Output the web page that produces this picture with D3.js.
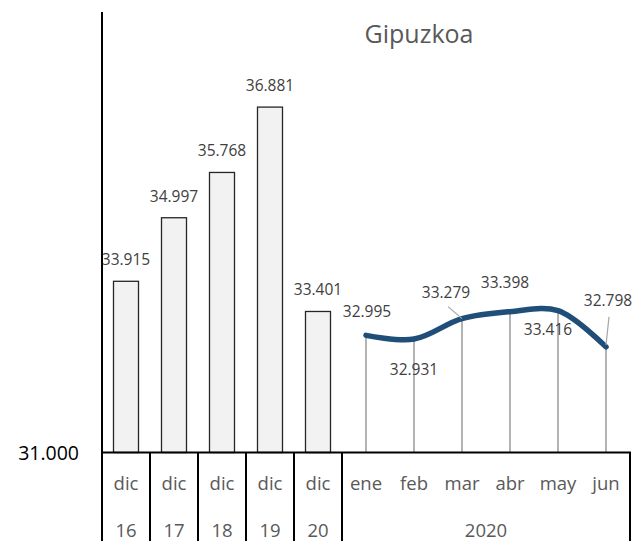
<!DOCTYPE html>
<html>
<head>
<meta charset="utf-8">
<script src="https://cdn.jsdelivr.net/npm/d3@7"></script>
<style>
  body { margin: 0; background: #fff; }
  svg { display: block; font-family: "Open Sans", sans-serif; }
</style>
</head>
<body>
<svg id="chart" width="644" height="541"></svg>
<script>
// bars: december of each year
const barCats = ["dic16", "dic17", "dic18", "dic19", "dic20"];
const barTop = ["dic", "dic", "dic", "dic", "dic"];
const barBottom = ["16", "17", "18", "19", "20"];
const barValues = [33915, 34997, 35768, 36881, 33401];

// line: months of 2020
const monthCats = ["ene", "feb", "mar", "abr", "may", "jun"];
const monthValues = [32995, 32931, 33279, 33398, 33416, 32798];
const monthYear = "2020";

// label offsets for the line (dx, dy from the point)
const lineLabelOffsets = [[1, -24], [0, 30], [-16, -26], [-5, -29], [-10, 19], [2, -46]];

const yMin = 31000, yMax = 38500;

const svg = d3.select("#chart");
const x = d3.scaleBand().domain(barCats.concat(monthCats)).range([102, 630]).paddingInner(0).paddingOuter(0);
const y = d3.scaleLinear().domain([yMin, yMax]).range([452.5, 12]);
const fmt = v => d3.format(",")(v).replace(/,/g, ".");
const cx = c => x(c) + x.bandwidth() / 2;

// title
svg.append("text").attr("x", 419).attr("y", 43)
  .attr("text-anchor", "middle").attr("font-size", 25).attr("fill", "#595959")
  .text("Gipuzkoa");

// bars
const barW = 25;
svg.selectAll(".bar").data(barValues).enter().append("rect")
  .attr("x", (d, i) => cx(barCats[i]) - barW / 2)
  .attr("y", d => y(d))
  .attr("width", barW)
  .attr("height", d => y(yMin) - y(d))
  .attr("fill", "#f2f2f2").attr("stroke", "#262626").attr("stroke-width", 1.3);

svg.selectAll(".barlbl").data(barValues).enter().append("text")
  .attr("x", (d, i) => cx(barCats[i]))
  .attr("y", d => y(d) - 16)
  .attr("text-anchor", "middle").attr("font-size", 15.5).attr("fill", "#404040")
  .text(d => fmt(d));

// drop lines
svg.selectAll(".drop").data(monthValues).enter().append("line")
  .attr("x1", (d, i) => cx(monthCats[i])).attr("x2", (d, i) => cx(monthCats[i]))
  .attr("y1", d => y(d)).attr("y2", y(yMin))
  .attr("stroke", "#808080").attr("stroke-width", 1.2);

// line
const line = d3.line()
  .x((d, i) => cx(monthCats[i]))
  .y(d => y(d))
  .curve(d3.curveCatmullRom.alpha(0.5));
svg.append("path").datum(monthValues).attr("d", line)
  .attr("fill", "none").attr("stroke", "#1f4e79").attr("stroke-width", 5.5)
  .attr("stroke-linecap", "round");

// leader lines for mar and jun
const leaders = [[2, [-14, -12], [0, 0]], [5, [3, -30], [0, -2]]];
leaders.forEach(([i, a, b]) => {
  const px = cx(monthCats[i]), py = y(monthValues[i]);
  svg.append("line")
    .attr("x1", px + a[0]).attr("y1", py + a[1])
    .attr("x2", px + b[0]).attr("y2", py + b[1])
    .attr("stroke", "#a6a6a6").attr("stroke-width", 1.2);
});

svg.selectAll(".linelbl").data(monthValues).enter().append("text")
  .attr("x", (d, i) => cx(monthCats[i]) + lineLabelOffsets[i][0])
  .attr("y", (d, i) => y(d) + lineLabelOffsets[i][1] + 5.5)
  .attr("text-anchor", "middle").attr("font-size", 15.5).attr("fill", "#404040")
  .text(d => fmt(d));

// y axis (only the min label shown)
svg.append("line").attr("x1", 102).attr("x2", 102).attr("y1", 12).attr("y2", 541)
  .attr("stroke", "#000").attr("stroke-width", 2);
svg.append("text").attr("x", 79).attr("y", y(yMin) + 7)
  .attr("text-anchor", "end").attr("font-size", 19.5).attr("fill", "#000")
  .text(fmt(yMin));

// category table
svg.append("line").attr("x1", 102).attr("x2", 631).attr("y1", y(yMin)).attr("y2", y(yMin))
  .attr("stroke", "#000").attr("stroke-width", 2);
const dividers = barCats.map(c => x(c) + x.bandwidth()).concat([630]);
svg.selectAll(".div").data(dividers).enter().append("line")
  .attr("x1", d => d).attr("x2", d => d).attr("y1", y(yMin)).attr("y2", 541)
  .attr("stroke", "#000").attr("stroke-width", 2);

const cat = svg.append("g").attr("font-size", 18.5).attr("fill", "#595959").attr("text-anchor", "middle");
barCats.forEach((c, i) => {
  cat.append("text").attr("x", cx(c)).attr("y", 490).text(barTop[i]);
  cat.append("text").attr("x", cx(c)).attr("y", 537).text(barBottom[i]);
});
monthCats.forEach(c => {
  cat.append("text").attr("x", cx(c)).attr("y", 490).text(c);
});
cat.append("text").attr("x", (x(monthCats[0]) + 630) / 2).attr("y", 537).text(monthYear);
</script>
</body>
</html>
